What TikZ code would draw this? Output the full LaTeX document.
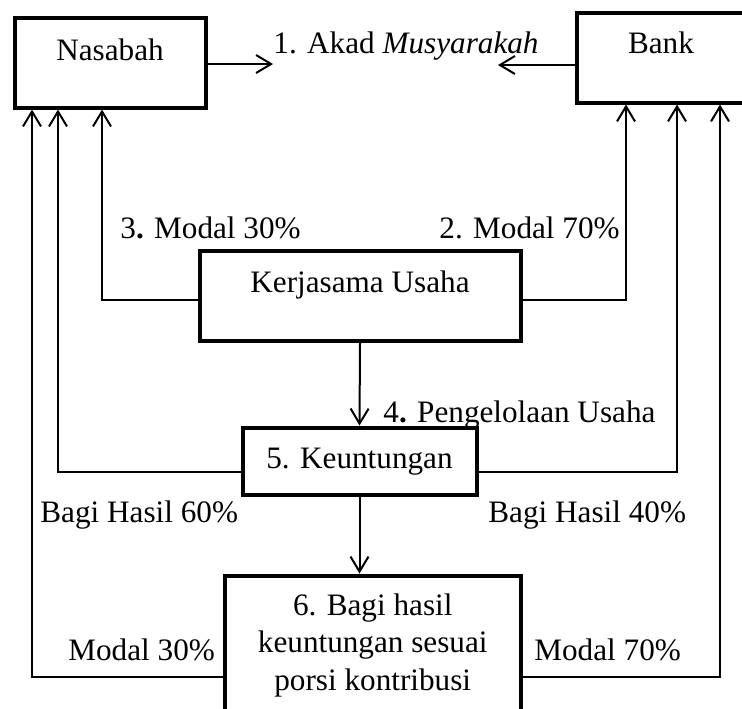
\documentclass[tikz,border=0pt]{standalone}
\usepackage{fontspec}
\setmainfont{Liberation Serif}
\usetikzlibrary{arrows.meta}

\tikzset{
    kotak/.style={draw, line width=2pt, inner sep=0pt},
    panah/.style={-{Straight Barb[length=7.5pt,width=9pt]}, line width=1pt},
    teks/.style={inner sep=0pt, anchor=base west}
}

\begin{document}
\begin{tikzpicture}[x=0.5pt, y=-0.5pt, font=\fontsize{15.6}{18.75}\selectfont]
        \useasboundingbox (0,0) rectangle (742,708);
        \clip (0,0) rectangle (742,708);
        %Nasabah dan Bank
        \node[kotak, anchor=base, minimum width=95.5pt, text height=21.25pt, text depth=23.75pt] (nasabah) at (110,60) {Nasabah};
        \node[kotak, anchor=base, minimum width=84.5pt, text height=20.25pt, text depth=24.75pt] (bank) at (661,53) {Bank};
        %Kerjasama 199.5 - 520.5
        \node[kotak, anchor=base, minimum width=160.5pt, text height=20.75pt, text depth=24.25pt] (kerja) at (360,292) {Kerjasama Usaha};
        %Keuntungan 242.5 - 476.5
        \node[kotak, anchor=base, minimum width=117pt, text height=20.25pt, text depth=13.25pt] (keun) at (359.5,468) {5. Keuntungan};
        %Bagi hasil 225 - 520.5
        \node[kotak, anchor=north, minimum width=147.75pt, inner ysep=9pt, align=center] (hasil) at (372.75,573.5) {6. Bagi hasil\\keuntungan sesuai\\porsi kontribusi};

        %Teks
        \node[teks] (akad) at (273,53) {1. Akad \textit{Musyarakah}};
        \node[teks] (modalA) at (120,238) {3\textbf{.} Modal 30\%};
        \node[teks] (modalB) at (439,238) {2. Modal 70\%};
        \node[teks] (kelola) at (383,422) {4\textbf{.} Pengelolaan Usaha};
        \node[teks] (bagiA) at (40,522) {Bagi Hasil 60\%};
        \node[teks] (bagiB) at (488,522) {Bagi Hasil 40\%};
        \node[teks] (modalC) at (68,660) {Modal 30\%};
        \node[teks] (modalD) at (534,660) {Modal 70\%};

        %Akad
        \coordinate (akadL) at (273,64);
        \coordinate (akadR) at (498,65);
        \draw[panah] (nasabah.east |- akadL) -- (akadL);
        \draw[panah] (bank.west |- akadR) -- (akadR);

        %Modal
        \draw[panah] ([yshift=-2pt]kerja.west) -| ([xshift=44.75pt]nasabah.south west);
        \draw[panah] ([yshift=-2pt]kerja.east) -| ([xshift=25.75pt]bank.south west);
        \draw[panah] (kerja.south) -- (keun.north);

        %Bagi hasil
        \draw[panah] ([yshift=-5.5pt]keun.west) -| ([xshift=22.75pt]nasabah.south west);
        \draw[panah] ([yshift=-5.5pt]keun.east) -| ([xshift=51.25pt]bank.south west);
        \draw[panah] (keun.south) -- (keun.south |- hasil.north);

        %Modal kembali
        \draw[panah] ([yshift=-51.75pt]hasil.north west) -| ([xshift=9.75pt]nasabah.south west);
        \draw[panah] ([yshift=-51.75pt]hasil.north east) -| ([xshift=72.75pt]bank.south west);
    \end{tikzpicture}
\end{document}
